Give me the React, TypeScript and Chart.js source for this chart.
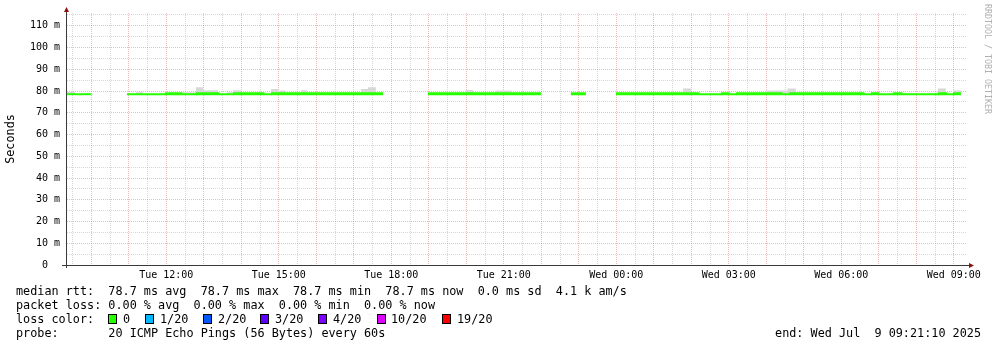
import React, { useEffect, useRef } from 'react';
import { Chart, registerables } from 'chart.js';

Chart.register(...registerables);

// Time axis in hours since Tue 00:00 (graph spans Tue 09:21:10 .. Wed 09:21:10)
const START_H = 9 + 21 / 60 + 10 / 3600;
const END_H = START_H + 24;

// Median RTT (ms) step segments, loss = 0 (green)
const medianStart = [9.35, 10.95, 11.97, 12.39, 12.79, 13.38, 13.78, 14.58, 14.79, 18.98, 22.79, 23.99, 26.18, 26.79, 26.98, 27.19, 28.39, 28.61, 30.58, 30.79, 30.98, 31.38, 31.59, 32.58, 32.79, 32.98];
const medianEnd = [10.0, 11.97, 12.39, 12.79, 13.38, 13.78, 14.58, 14.79, 17.78, 21.99, 23.19, 26.18, 26.79, 26.98, 27.19, 28.39, 28.61, 30.58, 30.79, 30.98, 31.38, 31.59, 32.58, 32.79, 32.98, 33.19];
const medianMs = [78.55, 78.55, 78.75, 78.55, 78.75, 78.55, 78.75, 78.55, 78.75, 78.75, 78.75, 78.75, 78.55, 78.75, 78.55, 78.75, 78.55, 78.75, 78.55, 78.75, 78.55, 78.75, 78.55, 78.75, 78.55, 78.75];

// Smoke (max ping spread above median), ms
const smokeStart = [9.35, 11.19, 12.39, 12.79, 12.98, 13.62, 13.78, 14.79, 14.98, 15.59, 17.19, 17.38, 19.99, 20.77, 25.78, 27.99, 28.57, 32.58, 32.98];
const smokeEnd = [9.57, 11.38, 12.79, 12.98, 13.38, 13.78, 13.99, 14.98, 15.17, 15.75, 17.38, 17.59, 20.18, 21.19, 25.99, 28.57, 28.79, 32.79, 33.19];
const smokeTopMs = [79.6, 79.5, 79.5, 81.8, 80.4, 79.5, 80.4, 81.0, 80.3, 80.4, 81.0, 81.8, 80.5, 80.3, 81.2, 80.3, 81.2, 81.2, 80.3];
const SMOKE_BASE = 78.5;

const xTickHours = [12, 15, 18, 21, 24, 27, 30, 33];
const xTickLabels = ['Tue 12:00', 'Tue 15:00', 'Tue 18:00', 'Tue 21:00', 'Wed 00:00', 'Wed 03:00', 'Wed 06:00', 'Wed 09:00'];
const yTickValues = [0, 10, 20, 30, 40, 50, 60, 70, 80, 90, 100, 110];
const yTickLabels = ['0  ', '10 m', '20 m', '30 m', '40 m', '50 m', '60 m', '70 m', '80 m', '90 m', '100 m', '110 m'];
const Y_MAX = 115.9;

const legendLine1 = 'median rtt:  78.7 ms avg  78.7 ms max  78.7 ms min  78.7 ms now  0.0 ms sd  4.1 k am/s';
const legendLine2 = 'packet loss: 0.00 % avg  0.00 % max  0.00 % min  0.00 % now';
const lossTitle = 'loss color:';
const lossLabels = ['0', '1/20', '2/20', '3/20', '4/20', '10/20', '19/20'];
const lossColors = ['#26ff00', '#00b8ff', '#0059ff', '#5e00ff', '#7e00ff', '#dd00ff', '#ff0000'];
const probeLine = 'probe:       20 ICMP Echo Pings (56 Bytes) every 60s';
const endLine = 'end: Wed Jul  9 09:21:10 2025';
const yTitle = 'Seconds';
const watermark = 'RRDTOOL / TOBI OETIKER';

// layout constants
const MONO = '"DejaVu Sans Mono", monospace';
const LEGEND_FONT = '11.8px ' + MONO;
const lossBoxX = [108, 145, 203, 260, 318, 377, 442];
const lossLabelX = [123, 160, 218, 275, 333, 391, 457];

function buildSteps(starts: number[], ends: number[], vals: number[]) {
  const pts: { x: number; y: number | null }[] = [];
  for (let i = 0; i < starts.length; i++) {
    if (i > 0 && starts[i] !== ends[i - 1]) pts.push({ x: (ends[i - 1] + starts[i]) / 2, y: null });
    pts.push({ x: starts[i], y: vals[i] });
    pts.push({ x: ends[i], y: vals[i] });
  }
  return pts;
}

const decorPlugin = {
  id: 'decor',
  afterDraw(chart: any) {
    const ctx: CanvasRenderingContext2D = chart.ctx;
    const { left, right, top, bottom } = chart.chartArea;
    ctx.save();
    // axes
    ctx.strokeStyle = '#3a3a3a';
    ctx.lineWidth = 1;
    ctx.beginPath();
    ctx.moveTo(left - 5, bottom + 0.5);
    ctx.lineTo(right + 3, bottom + 0.5);
    ctx.stroke();
    ctx.beginPath();
    ctx.moveTo(left - 0.5, top - 3);
    ctx.lineTo(left - 0.5, bottom + 3);
    ctx.stroke();
    // arrows
    ctx.fillStyle = '#8b1010';
    ctx.beginPath();
    ctx.moveTo(left - 0.5, top - 6);
    ctx.lineTo(left - 3, top - 1);
    ctx.lineTo(left + 2, top - 1);
    ctx.closePath();
    ctx.fill();
    ctx.beginPath();
    ctx.moveTo(right + 7, bottom + 0.5);
    ctx.lineTo(right + 2, bottom - 2);
    ctx.lineTo(right + 2, bottom + 3);
    ctx.closePath();
    ctx.fill();

    // y title
    ctx.fillStyle = '#000';
    ctx.font = LEGEND_FONT;
    ctx.save();
    ctx.translate(10.5, 139);
    ctx.rotate(-Math.PI / 2);
    ctx.textAlign = 'center';
    ctx.textBaseline = 'middle';
    ctx.fillText(yTitle, 0, 0);
    ctx.restore();

    // watermark
    ctx.save();
    ctx.fillStyle = '#b0b0b0';
    ctx.font = '8.3px ' + MONO;
    ctx.translate(987.5, 4);
    ctx.rotate(Math.PI / 2);
    ctx.textAlign = 'left';
    ctx.textBaseline = 'middle';
    ctx.fillText(watermark, 0, 0);
    ctx.restore();

    // legend
    ctx.font = LEGEND_FONT;
    ctx.textBaseline = 'middle';
    ctx.textAlign = 'left';
    ctx.fillStyle = '#000';
    ctx.fillText(legendLine1, 16, 292);
    ctx.fillText(legendLine2, 16, 306);
    ctx.fillText(lossTitle, 16, 320);
    for (let i = 0; i < lossLabels.length; i++) {
      ctx.fillStyle = lossColors[i];
      ctx.fillRect(lossBoxX[i], 314, 9, 10);
      ctx.strokeStyle = '#000';
      ctx.strokeRect(lossBoxX[i] + 0.5, 314.5, 8, 9);
      ctx.fillStyle = '#000';
      ctx.fillText(lossLabels[i], lossLabelX[i], 320);
    }
    ctx.fillText(probeLine, 16, 334);
    ctx.textAlign = 'right';
    ctx.fillText(endLine, 981, 334);
    ctx.restore();
  },
};

const MAJOR = 'rgba(220,90,90,0.42)';
const MINOR = 'rgba(150,150,150,0.38)';

export default function App() {
  const ref = useRef<HTMLCanvasElement>(null);
  useEffect(() => {
    if (!ref.current) return;
    const chart = new Chart(ref.current, {
      type: 'line',
      data: {
        datasets: [
          {
            label: 'median',
            data: buildSteps(medianStart, medianEnd, medianMs) as any,
            borderColor: '#26ff00',
            backgroundColor: '#26ff00',
            borderWidth: 3,
            pointRadius: 0,
            fill: false,
            spanGaps: false,
            borderCapStyle: 'butt',
            segment: {
              borderWidth: (c: any) => (c.p0.parsed.y > 78.65 ? 3 : 2),
            },
          } as any,
          {
            label: 'smoke',
            data: buildSteps(smokeStart, smokeEnd, smokeTopMs) as any,
            borderColor: 'rgba(0,0,0,0)',
            backgroundColor: '#d8d8d8',
            borderWidth: 0,
            pointRadius: 0,
            fill: { value: SMOKE_BASE },
            spanGaps: false,
          } as any,
        ],
      },
      options: {
        responsive: false,
        maintainAspectRatio: false,
        devicePixelRatio: 1,
        animation: false,
        events: [],
        layout: { padding: { top: 13, right: 30, left: 0, bottom: 0 } },
        plugins: { legend: { display: false }, tooltip: { enabled: false }, title: { display: false } },
        scales: {
          x: {
            type: 'linear',
            min: START_H,
            max: END_H,
            afterBuildTicks: (scale: any) => {
              const t: any[] = [];
              for (let h = Math.ceil(START_H * 2) / 2; h < END_H; h += 0.5) t.push({ value: h });
              scale.ticks = t;
            },
            afterFit: (scale: any) => {
              scale.height = 82;
            },
            grid: {
              color: (c: any) => (c.tick && Number.isInteger(c.tick.value) ? MAJOR : MINOR),
              lineWidth: 1,
              drawTicks: false,
            },
            border: { display: false, dash: [1, 1] },
            ticks: {
              autoSkip: false,
              maxRotation: 0,
              minRotation: 0,
              padding: 4,
              color: '#000',
              font: { family: MONO, size: 10 },
              callback: (v: any) => {
                const i = xTickHours.indexOf(Number(v));
                return i >= 0 ? xTickLabels[i] : '';
              },
            },
          },
          y: {
            type: 'linear',
            min: 0,
            max: Y_MAX,
            afterBuildTicks: (scale: any) => {
              const t: any[] = [];
              for (let v = 0; v <= Y_MAX; v += 5) t.push({ value: v });
              scale.ticks = t;
            },
            afterFit: (scale: any) => {
              scale.width = 67;
            },
            grid: {
              color: (c: any) => (c.tick && c.tick.value % 10 === 0 ? MAJOR : MINOR),
              lineWidth: 1,
              drawTicks: false,
            },
            border: { display: false, dash: [1, 1] },
            ticks: {
              autoSkip: false,
              padding: 7,
              color: '#000',
              font: { family: MONO, size: 10 },
              callback: (v: any) => {
                const i = yTickValues.indexOf(Number(v));
                return i >= 0 ? yTickLabels[i] : '';
              },
            },
          },
        },
      } as any,
      plugins: [decorPlugin],
    });
    return () => chart.destroy();
  }, []);
  return (
    <div style={{ position: 'fixed', left: 0, top: 0, width: 997, height: 347, background: '#fff' }}>
      <canvas ref={ref} width={997} height={347} style={{ display: 'block', width: 997, height: 347 }} />
    </div>
  );
}
